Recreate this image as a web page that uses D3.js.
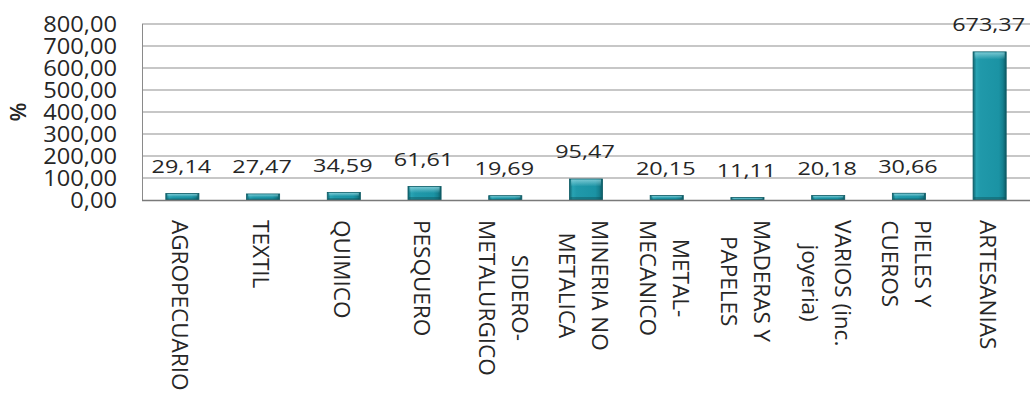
<!DOCTYPE html>
<html>
<head>
<meta charset="utf-8">
<script src="https://cdn.jsdelivr.net/npm/d3@7"></script>
<style>
  html, body { margin: 0; padding: 0; background: #ffffff; }
  svg { display: block; }
  text { font-family: "Open Sans", "DejaVu Sans", sans-serif; fill: #262626; }
</style>
</head>
<body>
<svg id="chart" width="1030" height="393"></svg>
<script>
// Sector names (lines split where the label wraps)
const categories = [
  "AGROPECUARIO", "TEXTIL", "QUIMICO", "PESQUERO", "SIDERO-\nMETALURGICO",
  "MINERIA NO\nMETALICA", "METAL-\nMECANICO", "MADERAS Y\nPAPELES",
  "VARIOS (inc.\njoyeria)", "PIELES Y\nCUEROS", "ARTESANIAS"
];
// Percentage per sector
const values = [29.14, 27.47, 34.59, 61.61, 19.69, 95.47, 20.15, 11.11, 20.18, 30.66, 673.37];
// Y axis ticks
const yTicks = [0, 100, 200, 300, 400, 500, 600, 700, 800];

const W = 1030, H = 393;
const plot = { left: 142, right: 1030, top: 24, bottom: 200 };

const svg = d3.select("#chart");

const locale = d3.formatLocale({ decimal: ",", thousands: ".", grouping: [3], currency: ["", ""] });
const fmt = locale.format(".2f");

const x = d3.scaleBand()
  .domain(d3.range(categories.length))
  .range([plot.left, plot.right])
  .paddingInner(0.59)
  .paddingOuter(0.295);

const y = d3.scaleLinear().domain([0, 800]).range([plot.bottom, plot.top]);

// Bar fill: bevelled teal
const defs = svg.append("defs");
const hg = defs.append("linearGradient").attr("id", "barFill")
  .attr("x1", "0").attr("x2", "1").attr("y1", "0").attr("y2", "0");
[["0%", "#0f6570"], ["10%", "#28a3b3"], ["22%", "#2099aa"], ["78%", "#1b93a4"], ["90%", "#15808f"], ["100%", "#0c5963"]]
  .forEach(([o, c]) => hg.append("stop").attr("offset", o).attr("stop-color", c));
const tg = defs.append("linearGradient").attr("id", "barTop")
  .attr("x1", "0").attr("x2", "0").attr("y1", "0").attr("y2", "1");
[["0%", "#9fdde5", 0.7], ["100%", "#9fdde5", 0]]
  .forEach(([o, c, a]) => tg.append("stop").attr("offset", o).attr("stop-color", c).attr("stop-opacity", a));

// Gridlines
svg.append("g")
  .selectAll("line")
  .data(yTicks.filter(t => t > 0))
  .join("line")
  .attr("x1", plot.left).attr("x2", plot.right)
  .attr("y1", d => y(d)).attr("y2", d => y(d))
  .attr("stroke", "#8f8f8f").attr("stroke-width", 1);

// Left axis line
svg.append("line")
  .attr("x1", plot.left + 0.5).attr("x2", plot.left + 0.5)
  .attr("y1", plot.top).attr("y2", plot.bottom)
  .attr("stroke", "#8a8a8a").attr("stroke-width", 1);

// Y tick labels
svg.append("g")
  .selectAll("text")
  .data(yTicks)
  .join("text")
  .attr("transform", d => `translate(117,${y(d)}) scale(1.1,1)`)
  .attr("text-anchor", "end")
  .attr("dy", "0.36em")
  .style("font-size", "21.5px")
  .text(d => fmt(d));

// Axis title
svg.append("text")
  .attr("transform", "translate(26,112) rotate(-90)")
  .attr("text-anchor", "middle")
  .style("font-size", "22px")
  .style("font-weight", "600")
  .text("%");

// Bars
const bars = svg.append("g").selectAll("g")
  .data(values)
  .join("g");

bars.append("rect")
  .attr("x", (d, i) => x(i))
  .attr("y", d => y(d))
  .attr("width", x.bandwidth())
  .attr("height", d => plot.bottom - y(d))
  .attr("fill", "url(#barFill)")
  .attr("stroke", "#0d5a64").attr("stroke-width", 0.8);

// top bevel highlight
bars.append("rect")
  .attr("x", (d, i) => x(i) + 1.5)
  .attr("y", d => y(d) + 0.5)
  .attr("width", x.bandwidth() - 3)
  .attr("height", d => Math.min(7, (plot.bottom - y(d)) * 0.45))
  .attr("fill", "url(#barTop)");

// bottom shade
bars.append("rect")
  .attr("x", (d, i) => x(i) + 1)
  .attr("y", d => plot.bottom - Math.min(3, (plot.bottom - y(d)) * 0.25))
  .attr("width", x.bandwidth() - 2)
  .attr("height", d => Math.min(3, (plot.bottom - y(d)) * 0.25))
  .attr("fill", "#0a4a52").attr("opacity", 0.4);

// Bottom axis line
svg.append("line")
  .attr("x1", plot.left).attr("x2", plot.right)
  .attr("y1", plot.bottom + 0.5).attr("y2", plot.bottom + 0.5)
  .attr("stroke", "#7a7a7a").attr("stroke-width", 1.5);

// Value labels
svg.append("g")
  .selectAll("text")
  .data(values)
  .join("text")
  .attr("transform", (d, i) => `translate(${x(i) + x.bandwidth() / 2 - 1},${y(d) - 20.5}) scale(1.3,1)`)
  .attr("text-anchor", "middle")
  .style("font-size", "18px")
  .text(d => fmt(d));

// Category labels, rotated to read downward
const lineH = 33;
const catG = svg.append("g");
categories.forEach((c, i) => {
  const lines = c.split("\n");
  const cx = x(i) + x.bandwidth() / 2 - 2;
  const t = catG.append("text")
    .attr("transform", `translate(${cx},220) rotate(90)`)
    .attr("text-anchor", "middle")
    .style("font-size", "22.5px");
  const spans = lines.map((ln, k) => t.append("tspan")
    .attr("y", (k - (lines.length - 1) / 2) * lineH)
    .attr("dy", "0.36em")
    .text(ln));
  const maxLen = d3.max(spans, s => s.node().getComputedTextLength());
  spans.forEach(s => s.attr("x", maxLen / 2));
});
</script>
</body>
</html>
